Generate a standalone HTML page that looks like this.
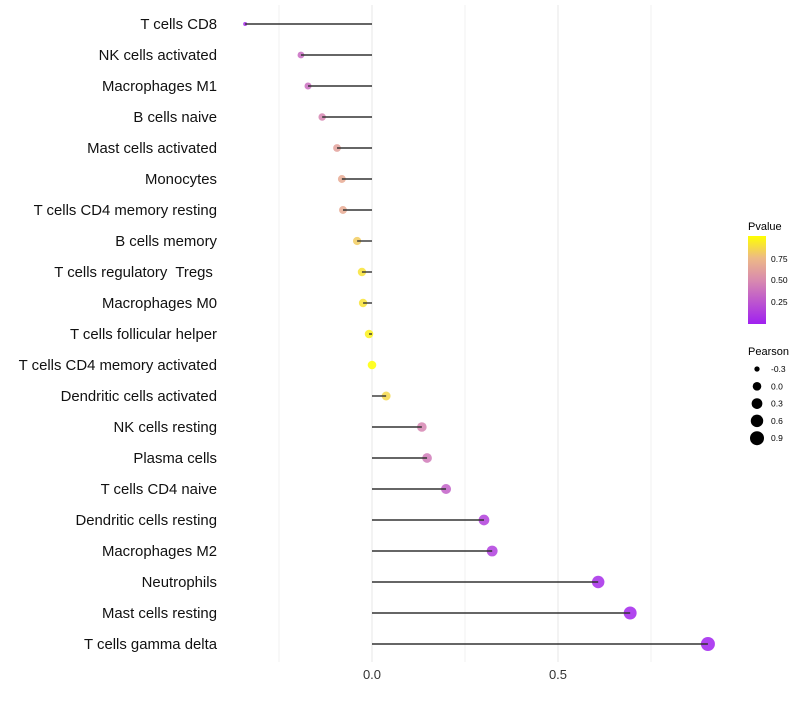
<!DOCTYPE html>
<html><head><meta charset="utf-8"><style>
body{margin:0;background:#fff;font-family:"Liberation Sans",sans-serif}
</style></head><body>
<svg id="chart" width="800" height="700" xmlns="http://www.w3.org/2000/svg">
<defs><linearGradient id="pg" x1="0" y1="1" x2="0" y2="0">
<stop offset="0" stop-color="#A020F0"/><stop offset="0.5" stop-color="#D98BAE"/><stop offset="0.75" stop-color="#EDB986"/><stop offset="1" stop-color="#FFFF00"/></linearGradient></defs>
<g id="grid"></g>
<g id="marks"></g>
<g id="ylab"></g>
<g id="xlab"></g>
<g>
<text x="748" y="230" font-size="11" fill="#000">Pvalue</text>
<rect x="748" y="236" width="18" height="88" fill="url(#pg)"/>
<text x="771" y="262" font-size="8.5">0.75</text>
<text x="771" y="283" font-size="8.5">0.50</text>
<text x="771" y="305" font-size="8.5">0.25</text>
</g>
<g id="sizeleg">
<text x="748" y="355" font-size="11">Pearson</text>
</g>
</svg>
<script>
const categories=["T cells CD8","NK cells activated","Macrophages M1","B cells naive","Mast cells activated","Monocytes","T cells CD4 memory resting","B cells memory","T cells regulatory\u00a0 Tregs\u00a0","Macrophages M0","T cells follicular helper","T cells CD4 memory activated","Dendritic cells activated","NK cells resting","Plasma cells","T cells CD4 naive","Dendritic cells resting","Macrophages M2","Neutrophils","Mast cells resting","T cells gamma delta"];
const pearson=[-0.341,-0.191,-0.172,-0.134,-0.094,-0.081,-0.078,-0.040,-0.027,-0.024,-0.008,0.0,0.038,0.134,0.148,0.199,0.301,0.323,0.608,0.694,0.903];
const pvalue=[0.05,0.35,0.37,0.47,0.62,0.67,0.67,0.82,0.9,0.9,0.95,1.0,0.86,0.47,0.42,0.3,0.15,0.14,0.05,0.03,0.01];
const xTicks=[0,0.5];
const sizeLegend=[-0.3,0.0,0.3,0.6,0.9];
const NS="http://www.w3.org/2000/svg";
const x=v=>372+v*372;
const y=i=>24+i*31;
const r=v=>2+5*Math.pow(Math.max(0,(v+0.341)/1.244),0.6);
function lerp(a,b,t){return a.map((c,i)=>Math.round(c+(b[i]-c)*t));}
const stops=[[0,[160,32,240]],[0.5,[217,139,174]],[0.75,[237,185,134]],[1,[255,255,0]]];
function col(p){for(let k=0;k<stops.length-1;k++){const[a,ca]=stops[k],[b,cb]=stops[k+1];if(p<=b){const c=lerp(ca,cb,(p-a)/(b-a));return`rgb(${c})`;}}return"rgb(255,255,0)";}
function mk(tag,attrs,parent){const e=document.createElementNS(NS,tag);for(const k in attrs)e.setAttribute(k,attrs[k]);parent.appendChild(e);return e;}
const grid=document.getElementById('grid'),marks=document.getElementById('marks'),ylab=document.getElementById('ylab'),xlab=document.getElementById('xlab'),sl=document.getElementById('sizeleg');
[-0.25,0.25,0.75].forEach(v=>{const l=mk('line',{x1:x(v),x2:x(v),y1:5,y2:662,stroke:'#f2f2f2','stroke-width':1},grid);});
xTicks.forEach(v=>{const l=mk('line',{x1:x(v),x2:x(v),y1:5,y2:662,stroke:'#ebebeb','stroke-width':1.2},grid);
const t=mk('text',{x:x(v),y:679,'font-size':13,'text-anchor':'middle',fill:'#333'},xlab);t.textContent=v.toFixed(1);});
categories.forEach((c,i)=>{
const t=mk('text',{x:217,y:y(i)+5,'font-size':14.9,'text-anchor':'end',fill:'#111'},ylab);t.textContent=c;
const ci=mk('circle',{cx:x(pearson[i]),cy:y(i),r:r(pearson[i]),fill:col(pvalue[i]),'fill-opacity':0.85},marks);
const l=mk('line',{x1:x(0),x2:x(pearson[i]),y1:y(i),y2:y(i),stroke:'#333','stroke-width':1.4},marks);
});
sizeLegend.forEach((v,i)=>{const cy=369+i*17.3;
const c=mk('circle',{cx:757,cy:cy,r:r(v),fill:'#000'},sl);
const t=mk('text',{x:771,y:cy+3,'font-size':8.5},sl);t.textContent=v.toFixed(1);});
</script>
</body></html>
